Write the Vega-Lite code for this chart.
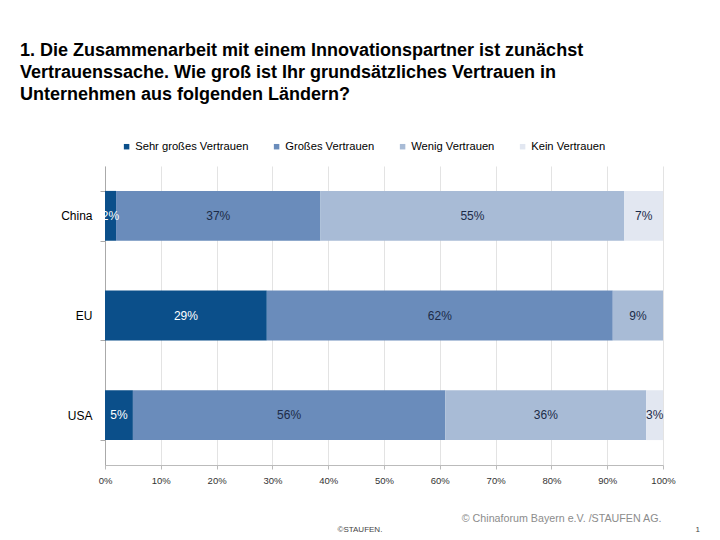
{
  "$schema": "https://vega.github.io/schema/vega-lite/v6.json",
  "width": 558,
  "height": 299,
  "autosize": {"type": "none"},
  "padding": {"left": 105, "top": 166, "right": 57, "bottom": 75},
  "background": "white",
  "config": {
    "font": "Arial, Liberation Sans, sans-serif",
    "view": {"stroke": null}
  },
  "title": {
    "text": ["1. Die Zusammenarbeit mit einem Innovationspartner ist zunächst", "Vertrauenssache. Wie groß ist Ihr grundsätzliches Vertrauen in", "Unternehmen aus folgenden Ländern?"],
    "anchor": "start",
    "frame": "group",
    "dx": -85,
    "offset": 37,
    "fontSize": 18,
    "fontWeight": "bold",
    "lineHeight": 22,
    "color": "#000000",
    "font": "Arial, Liberation Sans, sans-serif"
  },
  "data": {
    "values": [
      {"country": "China", "category": "Sehr großes Vertrauen", "k": 1, "value": 0.02},
      {"country": "China", "category": "Großes Vertrauen", "k": 2, "value": 0.37},
      {"country": "China", "category": "Wenig Vertrauen", "k": 3, "value": 0.55},
      {"country": "China", "category": "Kein Vertrauen", "k": 4, "value": 0.07},
      {"country": "EU", "category": "Sehr großes Vertrauen", "k": 1, "value": 0.29},
      {"country": "EU", "category": "Großes Vertrauen", "k": 2, "value": 0.62},
      {"country": "EU", "category": "Wenig Vertrauen", "k": 3, "value": 0.09},
      {"country": "USA", "category": "Sehr großes Vertrauen", "k": 1, "value": 0.05},
      {"country": "USA", "category": "Großes Vertrauen", "k": 2, "value": 0.56},
      {"country": "USA", "category": "Wenig Vertrauen", "k": 3, "value": 0.36},
      {"country": "USA", "category": "Kein Vertrauen", "k": 4, "value": 0.03}
    ]
  },
  "resolve": {"axis": {"y": "independent"}},
  "layer": [
    {
      "mark": {"type": "bar"},
      "encoding": {
        "y": {
          "field": "country",
          "type": "nominal",
          "scale": {"paddingInner": 0.5, "paddingOuter": 0.25},
          "axis": {
            "title": "©STAUFEN.",
            "titleAngle": 0,
            "titleX": 232,
            "titleY": 365,
            "titleAlign": "left",
            "titleBaseline": "alphabetic",
            "titleFontSize": 8,
            "titleFontWeight": "normal",
            "titleColor": "#444444",
            "labelFontSize": 12,
            "labelColor": "#000000",
            "labelPadding": 8,
            "tickBand": "extent",
            "tickSize": 5,
            "tickColor": "#aaaaaa",
            "domainColor": "#aaaaaa",
            "grid": false
          }
        },
        "x": {
          "field": "value",
          "type": "quantitative",
          "stack": "normalize",
          "scale": {"domain": [0, 1]},
          "axis": {
            "title": "© Chinaforum Bayern e.V. /STAUFEN AG.",
            "titleX": 556,
            "titleY": 56,
            "titleAlign": "right",
            "titleBaseline": "alphabetic",
            "titleFontSize": 10.7,
            "titleFontWeight": "normal",
            "titleColor": "#8c8c8c",
            "format": ".0%",
            "values": [0, 0.1, 0.2, 0.3, 0.4, 0.5, 0.6, 0.7, 0.8, 0.9, 1],
            "labelFlush": false,
            "labelFontSize": 9.5,
            "labelColor": "#333333",
            "labelPadding": 6,
            "tickSize": 4,
            "tickColor": "#bbbbbb",
            "domainColor": "#bbbbbb",
            "grid": true,
            "gridColor": "#e3e3e3"
          }
        },
        "color": {
          "field": "category",
          "type": "nominal",
          "scale": {
            "domain": ["Sehr großes Vertrauen", "Großes Vertrauen", "Wenig Vertrauen", "Kein Vertrauen"],
            "range": ["#0b4f8a", "#6a8cbb", "#a8bbd6", "#e2e7f1"]
          },
          "legend": {
            "title": null,
            "orient": "none",
            "legendX": 16,
            "legendY": -25,
            "direction": "horizontal",
            "columns": 4,
            "columnPadding": 22,
            "symbolType": "square",
            "symbolSize": 30,
            "symbolStrokeWidth": 0,
            "labelFontSize": 11.2,
            "labelColor": "#000000",
            "labelOffset": 3,
            "padding": 0
          }
        },
        "order": {"field": "k", "type": "quantitative", "sort": "ascending"}
      }
    },
    {
      "mark": {"type": "text", "fontSize": 12, "align": "center", "baseline": "middle"},
      "encoding": {
        "y": {
          "field": "country",
          "type": "nominal",
          "axis": {
            "orient": "right",
            "title": "1",
            "titleAngle": 0,
            "titleX": 32,
            "titleY": 365,
            "titleAlign": "left",
            "titleBaseline": "alphabetic",
            "titleFontSize": 8,
            "titleFontWeight": "normal",
            "titleColor": "#444444",
            "labels": false,
            "ticks": false,
            "domain": false,
            "grid": false
          }
        },
        "x": {
          "field": "value",
          "type": "quantitative",
          "stack": "normalize",
          "bandPosition": 0.5
        },
        "detail": {"field": "category", "type": "nominal"},
        "order": {"field": "k", "type": "quantitative", "sort": "ascending"},
        "text": {"field": "value", "type": "quantitative", "format": ".0%"},
        "color": {
          "condition": {"test": "datum.category === 'Sehr großes Vertrauen'", "value": "#ffffff"},
          "value": "#1c2b48"
        }
      }
    }
  ]
}
